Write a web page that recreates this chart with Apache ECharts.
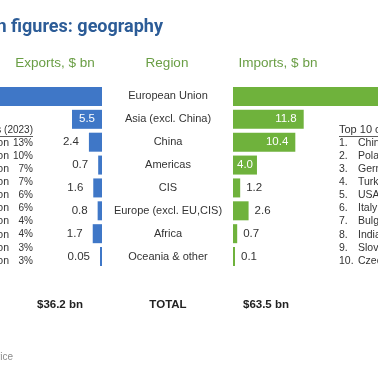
<!DOCTYPE html>
<html>
<head>
<meta charset="utf-8">
<script src="https://cdn.jsdelivr.net/npm/echarts@6/dist/echarts.min.js"></script>
<style>html,body{margin:0;padding:0;background:#fff}#c{width:378px;height:370px}</style>
</head>
<body>
<div id="c"></div>
<script>
// ---- data ----
var regions = ['European Union','Asia (excl. China)','China','Americas','CIS','Europe (excl. EU,CIS)','Africa','Oceania & other'];
var exportsBn = [23.5, 5.5, 2.4, 0.7, 1.6, 0.8, 1.7, 0.05];
var importsBn = [32.7, 11.8, 10.4, 4.0, 1.2, 2.6, 0.7, 0.1];
var exportShareLabels = ['region','region','region','region','region','region','region','region','region','region'];
var exportShares = ['13%','10%','7%','7%','6%','6%','4%','4%','3%','3%'];
var importRanks = ['1.','2.','3.','4.','5.','6.','7.','8.','9.','10.'];
var importCountries = ['China','Poland','Germany','Turkey','USA','Italy','Bulgaria','India','Slovakia','Czechia'];
var totals = ['$36.2 bn','TOTAL','$63.5 bn'];
var headers = ['Exports, $ bn','Region','Imports, $ bn'];

var EXP_MAX = 18.7, IMP_MAX = 24.2;
var BLUE = '#3F77C7', GREEN = '#6FB23C', TXT = '#333333';
var SANS = '"Liberation Sans", Arial, sans-serif';

function fmt(v){ return v < 0.1 ? v.toFixed(2) : v.toFixed(1); }

var expData = exportsBn.map(function(v){
  var lab;
  if (v > EXP_MAX) lab = {show:false};
  else if (v >= 5) lab = {show:true, position:'inside', color:'#fff'};
  else lab = {show:true, position:'left', distance:10, color:TXT};
  return {value:v, label:lab};
});
var impData = importsBn.map(function(v){
  var lab;
  if (v > IMP_MAX) lab = {show:false};
  else if (v >= 10) lab = {show:true, position:'insideRight', distance:7, color:'#fff'};
  else if (v >= 3) lab = {show:true, position:'inside', color:'#fff'};
  else lab = {show:true, position:'right', distance:6, color:TXT};
  return {value:v, label:lab};
});

var graphics = [];
function txt(x, y, s, opt){
  opt = opt || {};
  graphics.push({type:'text', x:x, y:y, silent:true, style:{
    text:s, fill:opt.fill||TXT, font:opt.font||('11px '+SANS),
    textAlign:opt.align||'left', textVerticalAlign:'middle'}});
}
txt(163, 27, 'Ukraine in figures: geography', {fill:'#2C5C97', font:'bold 18px Roboto, sans-serif', align:'right'});
txt(55, 63, headers[0], {fill:'#6A9E45', font:'13.5px '+SANS, align:'center'});
txt(167, 63, headers[1], {fill:'#6A9E45', font:'13.5px '+SANS, align:'center'});
txt(278, 63, headers[2], {fill:'#6A9E45', font:'13.5px '+SANS, align:'center'});

txt(33, 130, 'Top 10 regions (2023)', {font:'10px '+SANS, align:'right'});
graphics.push({type:'line', silent:true, shape:{x1:0,y1:136.5,x2:33,y2:136.5}, style:{stroke:TXT, lineWidth:0.8}});
txt(339, 130, 'Top 10 countries (2023)', {font:'11px '+SANS});
graphics.push({type:'line', silent:true, shape:{x1:339,y1:136.5,x2:378,y2:136.5}, style:{stroke:TXT, lineWidth:0.8}});
for (var i=0;i<10;i++){
  var yy = 143 + i*13.1;
  txt(9, yy, exportShareLabels[i], {font:'10.5px '+SANS, align:'right'});
  txt(33, yy, exportShares[i], {font:'10px '+SANS, align:'right'});
  txt(339, yy, importRanks[i], {font:'10.5px '+SANS});
  txt(358, yy, importCountries[i], {font:'10.5px '+SANS});
}
txt(60, 305, totals[0], {font:'bold 11.5px '+SANS, fill:'#222', align:'center'});
txt(168, 305, totals[1], {font:'bold 11.5px '+SANS, fill:'#222', align:'center'});
txt(266, 305, totals[2], {font:'bold 11.5px '+SANS, fill:'#222', align:'center'});
txt(13, 357, 'Source: State Customs Service', {font:'10px '+SANS, fill:'#8a8a8a', align:'right'});

var chart = echarts.init(document.getElementById('c'), null, {renderer:'canvas'});
chart.setOption({
  animation:false,
  backgroundColor:'#fff',
  grid:[
    {left:0, top:85, width:102, height:183},
    {left:233, top:85, width:145, height:183}
  ],
  xAxis:[
    {gridIndex:0, type:'value', min:0, max:EXP_MAX, inverse:true, show:false},
    {gridIndex:1, type:'value', min:0, max:IMP_MAX, show:false}
  ],
  yAxis:[
    {gridIndex:0, type:'category', data:regions, inverse:true, position:'right',
     axisLine:{show:false}, axisTick:{show:false}, splitLine:{show:false},
     axisLabel:{margin:66, align:'center', color:TXT, fontSize:11, fontFamily:SANS}},
    {gridIndex:1, type:'category', data:regions, inverse:true, show:false}
  ],
  series:[
    {type:'bar', xAxisIndex:0, yAxisIndex:0, data:expData, barWidth:19, barMinHeight:2,
     itemStyle:{color:BLUE}, label:{fontSize:11.5, fontFamily:SANS, formatter:function(p){return fmt(p.value);}}},
    {type:'bar', xAxisIndex:1, yAxisIndex:1, data:impData, barWidth:19, barMinHeight:2,
     itemStyle:{color:GREEN}, label:{fontSize:11.5, fontFamily:SANS, formatter:function(p){return fmt(p.value);}}}
  ],
  graphic:graphics
});
</script>
</body>
</html>
